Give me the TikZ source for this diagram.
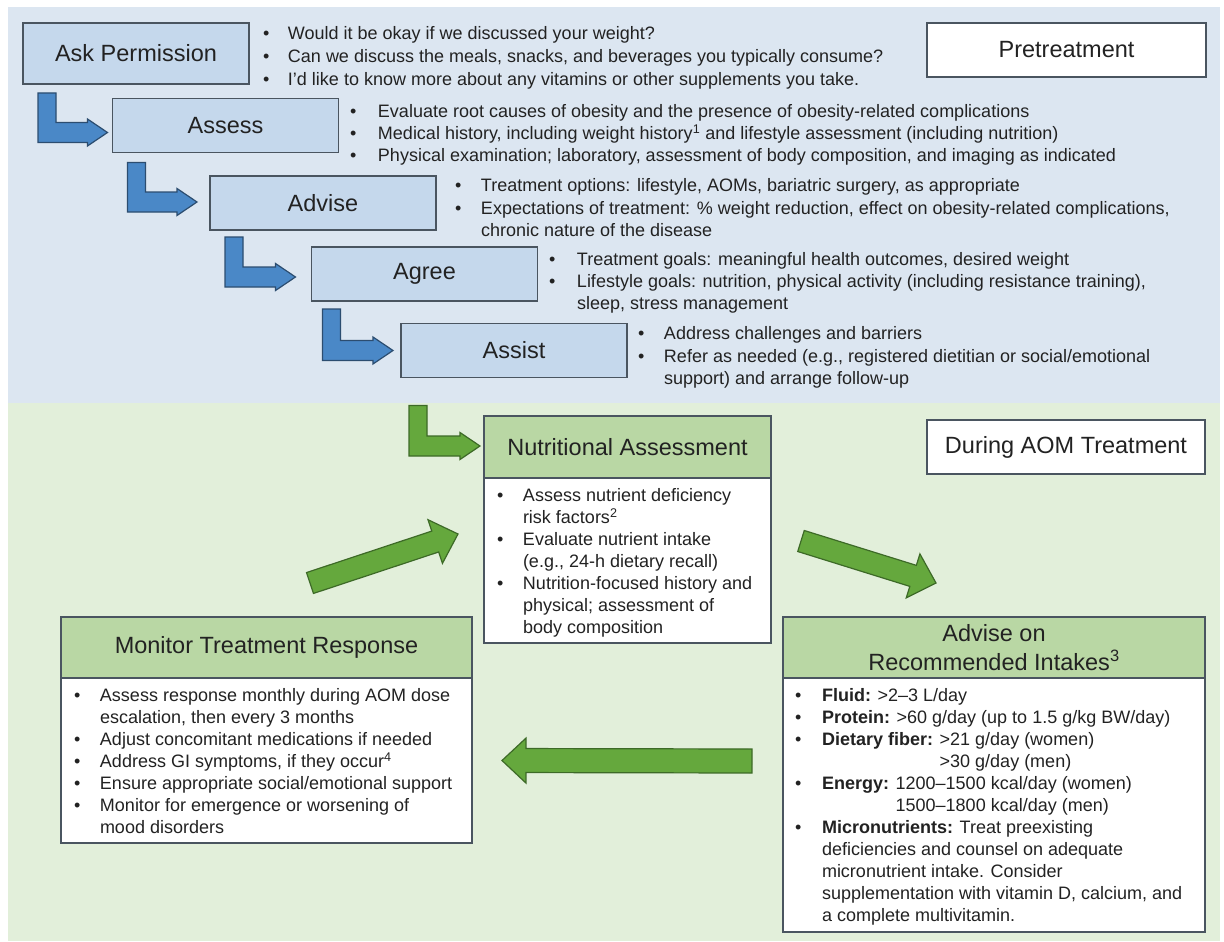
\documentclass[tikz,border=0pt]{standalone}
\usepackage{fontspec}
\setmainfont{Liberation Sans}
\usetikzlibrary{calc}
\definecolor{bgblue}{HTML}{DCE6F1}
\definecolor{bggreen}{HTML}{E2EFDA}
\definecolor{boxblue}{HTML}{C5D8EC}
\definecolor{arrblue}{HTML}{4A88C7}
\definecolor{arrblueline}{HTML}{2C4D70}
\definecolor{hdgreen}{HTML}{B9D7A4}
\definecolor{arrgreen}{HTML}{65A83D}
\definecolor{arrgreenline}{HTML}{3D6A27}
\definecolor{edge}{HTML}{4A5560}
\definecolor{txt}{HTML}{222222}
\newdimen\bulind
\bulind=26pt
\newcommand{\bul}[1]{\hbox{\makebox[\bulind][l]{\textbullet}#1}}
\newcommand{\cnt}[1]{\hbox{\hspace{\bulind}#1}}
\newcommand{\bodyfont}{\fontsize{18}{22.2}\selectfont}
\newcommand{\titlefont}{\fontsize{23.5}{29}\selectfont}
\newcommand{\Larrow}[3]{%
  \draw[#1] let \p1=(#2), \p2=(#3) in
   (\x1,\y1) -- (\x1+18pt,\y1) -- (\x1+18pt,\y2+10pt) -- (\x2-20pt,\y2+10pt)
   -- (\x2-20pt,\y2+13.5pt) -- (\x2,\y2) -- (\x2-20pt,\y2-13.5pt)
   -- (\x2-20pt,\y2-10pt) -- (\x1,\y2-10pt) -- cycle;}
\newcommand{\BArrow}[5]{%
  \coordinate (bab) at ($(#3)!24pt!(#2)$);
  \draw[#1] ($(#2)!#4!90:(#3)$) -- ($(bab)!#4!90:(#3)$) -- ($(bab)!#5!90:(#3)$)
   -- (#3) -- ($(bab)!#5!-90:(#3)$) -- ($(bab)!#4!-90:(#3)$)
   -- ($(#2)!#4!-90:(#3)$) -- cycle;}
\tikzset{
  boxbase/.style={draw=edge, line width=1.3pt, text=txt, font=\titlefont, inner sep=0pt, outer sep=0pt},
  bluebox/.style={boxbase, fill=boxblue, minimum width=226pt, minimum height=54pt},
  whitebox/.style={boxbase, fill=white},
  greenhead/.style={boxbase, fill=hdgreen},
  listtext/.style={anchor=base west, inner sep=0pt, outer sep=0pt, text=txt, font=\bodyfont},
  bluearrow/.style={fill=arrblue, draw=arrblueline, line width=1.2pt, line join=miter},
  greenarrow/.style={fill=arrgreen, draw=arrgreenline, line width=1.2pt, line join=miter}
}
\begin{document}
\begin{tikzpicture}[x=1pt, y=-1pt]
\useasboundingbox (0,0) rectangle (1224,942);
\fill[bgblue] (8,7) rectangle (1220,403);
\fill[bggreen] (8,403) rectangle (1220,941);

% pretreatment steps
\node[bluebox, minimum height=61pt] (ask) at (136,53.5) {Ask Permission};
\node[bluebox] (assess) at (225.5,125.5) {Assess};
\node[bluebox] (advise) at (323,203) {Advise};
\node[bluebox] (agree) at (424.5,274) {Agree};
\node[bluebox] (assist) at (514,350.5) {Assist};
\node[whitebox, minimum width=279pt, minimum height=54pt] (pre) at (1066.5,50) {Pretreatment};

\node[listtext] (asklist) at (263,39.5) {\baselineskip=23pt\bulind=25pt\vtop{%
  \bul{Would it be okay if we discussed your weight?}
  \bul{Can we discuss the meals, snacks, and beverages you typically consume?}
  \bul{I’d like to know more about any vitamins or other supplements you take.}}};
\node[listtext] (assesslist) at (350,117.5) {\baselineskip=22pt\bulind=28pt\vtop{%
  \bul{Evaluate root causes of obesity and the presence of obesity-related complications}
  \bul{Medical history, including weight history\textsuperscript{1} and lifestyle assessment (including nutrition)}
  \bul{Physical examination; laboratory, assessment of body composition, and imaging as indicated}}};
\node[listtext] (adviselist) at (455,191.5) {\baselineskip=22.5pt\bulind=26pt\vtop{%
  \bul{Treatment options: lifestyle, AOMs, bariatric surgery, as appropriate}
  \bul{Expectations of treatment: \% weight reduction, effect on obesity-related complications,}
  \cnt{chronic nature of the disease}}};
\node[listtext] (agreelist) at (549,265.5) {\baselineskip=22pt\bulind=28pt\vtop{%
  \bul{Treatment goals: meaningful health outcomes, desired weight}
  \bul{Lifestyle goals: nutrition, physical activity (including resistance training),}
  \cnt{sleep, stress management}}};
\node[listtext] (assistlist) at (638,339.5) {\baselineskip=22.5pt\bulind=26pt\vtop{%
  \bul{Address challenges and barriers}
  \bul{Refer as needed (e.g., registered dietitian or social/emotional}
  \cnt{support) and arrange follow-up}}};

% during AOM treatment
\node[whitebox, minimum width=278pt, minimum height=54pt] (during) at (1066,447) {During AOM Treatment};

\node[whitebox, minimum width=287pt, minimum height=165pt] (nutrbody) at (627.5,560.5) {};
\node[greenhead, minimum width=287pt, minimum height=62pt] (nutrhead) at (627.5,447) {Nutritional Assessment};
\node[listtext] (nutrlist) at (497,501.5) {\baselineskip=22pt\bulind=26pt\vtop{%
  \bul{Assess nutrient deficiency}
  \cnt{risk factors\textsuperscript{2}}
  \bul{Evaluate nutrient intake}
  \cnt{(e.g., 24-h dietary recall)}
  \bul{Nutrition-focused history and}
  \cnt{physical; assessment of}
  \cnt{body composition}}};

\node[whitebox, minimum width=411pt, minimum height=165pt] (monbody) at (266.5,760.5) {};
\node[greenhead, minimum width=411pt, minimum height=61pt] (monhead) at (266.5,647.5) {Monitor Treatment Response};
\node[listtext] (monlist) at (74,701.5) {\baselineskip=22pt\bulind=26pt\vtop{%
  \bul{Assess response monthly during AOM dose}
  \cnt{escalation, then every 3 months}
  \bul{Adjust concomitant medications if needed}
  \bul{Address GI symptoms, if they occur\textsuperscript{4}}
  \bul{Ensure appropriate social/emotional support}
  \bul{Monitor for emergence or worsening of}
  \cnt{mood disorders}}};

\node[whitebox, minimum width=422pt, minimum height=254pt] (advbody) at (994,805) {};
\node[greenhead, minimum width=422pt, minimum height=61pt, align=center] (advhead) at (994,647.5) {Advise on\\Recommended Intakes\textsuperscript{3}};
\node[listtext] (advlist) at (795,701.5) {\baselineskip=22pt\bulind=27pt\vtop{%
  \bul{\textbf{Fluid:} >2--3 L/day}
  \bul{\textbf{Protein:} >60 g/day (up to 1.5 g/kg BW/day)}
  \bul{\textbf{Dietary fiber:} >21 g/day (women)}
  \cnt{\phantom{\textbf{Dietary fiber:} }>30 g/day (men)}
  \bul{\textbf{Energy:} 1200--1500 kcal/day (women)}
  \cnt{\phantom{\textbf{Energy:} }1500--1800 kcal/day (men)}
  \bul{\textbf{Micronutrients:} Treat preexisting}
  \cnt{deficiencies and counsel on adequate}
  \cnt{micronutrient intake. Consider}
  \cnt{supplementation with vitamin D, calcium, and}
  \cnt{a complete multivitamin.}}};

% L-shaped step arrows
\coordinate (l1s) at ($(ask.south west)+(15,9)$);
\coordinate (l1t) at ($(assess.west)+(-5,7)$);
\coordinate (l2s) at ($(assess.south west)+(15,10)$);
\coordinate (l2t) at ($(advise.west)+(-13,-1)$);
\coordinate (l3s) at ($(advise.south west)+(15,7)$);
\coordinate (l3t) at ($(agree.west)+(-16,3)$);
\coordinate (l4s) at ($(agree.south west)+(11,8)$);
\coordinate (l4t) at ($(assist.west)+(-8,0)$);
\coordinate (l5s) at ($(assist.south west)+(8,28)$);
\coordinate (l5t) at ($(nutrhead.west)+(-4,-1)$);
\Larrow{bluearrow}{l1s}{l1t}
\Larrow{bluearrow}{l2s}{l2t}
\Larrow{bluearrow}{l3s}{l3t}
\Larrow{bluearrow}{l4s}{l4t}
\Larrow{greenarrow}{l5s}{l5t}

% cycle arrows
\coordinate (u1s) at ($(monhead.north)+(43.5,-34)$);
\coordinate (u1t) at ($(nutrbody.west)+(-26,-26.5)$);
\coordinate (d1s) at ($(nutrbody.east)+(30,-19.5)$);
\coordinate (d1t) at ($(advhead.north)+(-58,-34)$);
\coordinate (h1s) at ($(advbody.west)+(-31,-44)$);
\coordinate (h1t) at ($(monbody.east)+(30,0)$);
\BArrow{greenarrow}{u1s}{u1t}{11pt}{23pt}
\BArrow{greenarrow}{d1s}{d1t}{11pt}{23pt}
\BArrow{greenarrow}{h1s}{h1t}{12pt}{22.5pt}
\end{tikzpicture}
\end{document}
